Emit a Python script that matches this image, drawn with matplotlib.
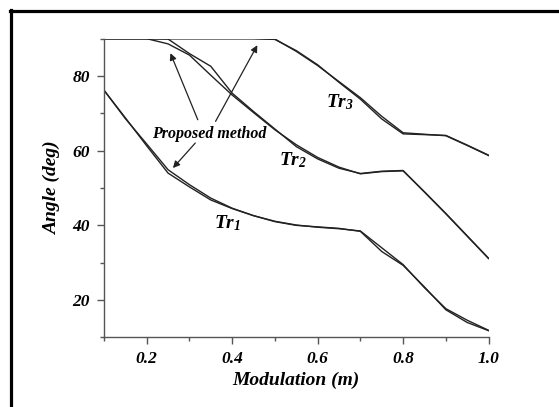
import matplotlib
matplotlib.use('Agg')
import matplotlib.pyplot as plt
from matplotlib.lines import Line2D
from matplotlib.ticker import MultipleLocator

plt.rcParams['font.family'] = 'Liberation Serif'
plt.rcParams['font.weight'] = 'bold'
plt.rcParams['font.style'] = 'italic'
plt.rcParams['axes.labelweight'] = 'bold'
plt.rcParams['mathtext.fontset'] = 'custom'
plt.rcParams['mathtext.rm'] = 'Liberation Serif:italic:bold'
plt.rcParams['mathtext.it'] = 'Liberation Serif:italic:bold'
plt.rcParams['mathtext.bf'] = 'Liberation Serif:italic:bold'

# Modulation values (shared grid)
m = [0.1, 0.15, 0.2, 0.25, 0.3, 0.35, 0.4, 0.45, 0.5, 0.55,
     0.6, 0.65, 0.7, 0.75, 0.8, 0.85, 0.9, 0.95, 1.0]

# Tr1: reference and proposed method
tr1_ref = [76.2, 68.8, 61.3, 54.0, 50.3, 46.8, 44.5, 42.6, 41.0, 40.0,
           39.6, 39.2, 38.4, 33.0, 29.3, 23.5, 17.4, 14.0, 11.8]
tr1_prop = [76.2, 68.6, 61.8, 54.9, 50.9, 47.3, 44.6, 42.6, 41.1, 40.1,
            39.5, 39.1, 38.5, 34.0, 29.5, 23.3, 17.7, 14.6, 11.9]

# Tr2
tr2_ref = [90.0, 90.0, 90.0, 88.6, 85.6, 80.2, 74.9, 70.2, 65.6, 61.6,
           58.2, 55.6, 53.8, 54.4, 54.6, 49.0, 43.2, 37.2, 31.2]
tr2_prop = [90.0, 90.0, 90.0, 89.9, 86.0, 82.6, 75.4, 70.5, 65.8, 61.1,
            57.8, 55.3, 53.9, 54.5, 54.7, 48.9, 43.1, 37.1, 31.1]

# Tr3
tr3_ref = [90.0, 90.0, 90.0, 90.0, 90.0, 90.0, 90.0, 90.0, 89.8, 86.8,
           83.0, 78.3, 73.8, 68.5, 64.5, 64.3, 64.1, 61.5, 58.8]
tr3_prop = [90.0, 90.0, 90.0, 90.0, 90.0, 90.0, 90.0, 90.0, 89.9, 86.6,
            82.8, 78.5, 74.2, 69.2, 64.8, 64.4, 64.0, 61.4, 58.7]

fig = plt.figure(figsize=(5.59, 4.07), dpi=100)
ax = fig.add_axes([0.186, 0.171, 0.688, 0.734])

for ref, prop in [(tr1_ref, tr1_prop), (tr2_ref, tr2_prop), (tr3_ref, tr3_prop)]:
    ax.plot(m, ref, color='#222222', lw=1.0)
    ax.plot(m, prop, color='#222222', lw=1.0)

ax.set_xlim(0.1, 1.0)
ax.set_ylim(10, 90)
ax.xaxis.set_minor_locator(MultipleLocator(0.1))
ax.yaxis.set_minor_locator(MultipleLocator(10))
ax.set_xticks([0.2, 0.4, 0.6, 0.8, 1.0])
ax.set_xticklabels(['0.2', '0.4', '0.6', '0.8', '1.0'])
ax.set_yticks([20, 40, 60, 80])
ax.tick_params(which='major', direction='out', length=5, width=1, color='#555555',
               labelsize=12.5, pad=5)
ax.tick_params(which='minor', direction='out', length=3, width=1, color='#555555')
for s in ['top', 'right']:
    ax.spines[s].set_visible(False)
for s in ['left', 'bottom']:
    ax.spines[s].set_color('#555555')
    ax.spines[s].set_linewidth(1.0)

ax.set_xlabel('Modulation (m)', fontsize=14, labelpad=3)
ax.set_ylabel('Angle (deg)', fontsize=14, labelpad=8)

# annotations
ax.text(0.346, 64.4, 'Proposed method', fontsize=11.5, ha='center', va='center')
arrow = dict(arrowstyle='-|>', color='#222222', lw=0.9, mutation_scale=10)
ax.annotate('', xy=(0.253, 86.8), xytext=(0.322, 67.6), arrowprops=arrow)
ax.annotate('', xy=(0.462, 88.9), xytext=(0.358, 67.2), arrowprops=arrow)
ax.annotate('', xy=(0.257, 54.8), xytext=(0.318, 62.6), arrowprops=arrow)

ax.text(0.39, 40.5, r'$Tr_1$', fontsize=14, ha='center', va='center')
ax.text(0.542, 57.5, r'$Tr_2$', fontsize=14, ha='center', va='center')
ax.text(0.652, 73.1, r'$Tr_3$', fontsize=14, ha='center', va='center')

# frame on top and left of figure
fig.add_artist(Line2D([10 / 559, 1.0], [1 - 11 / 407, 1 - 11 / 407], color='black', lw=2.3))
fig.add_artist(Line2D([11 / 559, 11 / 559], [0.0, 1 - 10 / 407], color='black', lw=2.3))

fig.savefig('out.png', dpi=100)
